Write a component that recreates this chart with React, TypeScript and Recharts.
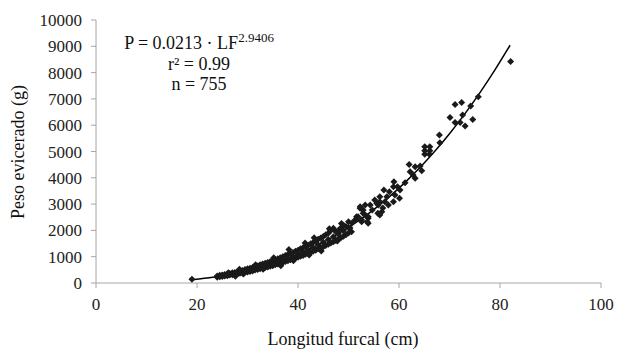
import React from "react";
import {
  ComposedChart,
  Scatter,
  Line,
  XAxis,
  YAxis,
} from "recharts";

const xTicks = [0, 20, 40, 60, 80, 100];
const yTicks = [0, 1000, 2000, 3000, 4000, 5000, 6000, 7000, 8000, 9000, 10000];

// fitted curve P = 0.0213 * LF^2.9406
const curveLF = [19, 22, 25, 28, 31, 34, 37, 40, 43, 46, 49, 52, 55, 58, 61, 64, 67, 70, 73, 76, 79, 82];
const curveP = [123, 189, 275, 384, 518, 679, 871, 1095, 1354, 1652, 1989, 2369, 2793, 3266, 3787, 4362, 4991, 5677, 6423, 7230, 8102, 9040];

// observed fish: longitud furcal (cm) / peso eviscerado (g)
const obsLF = [
  19,
  24, 24, 24.5, 24.5, 25, 25, 25, 25.5, 25.5, 26, 26, 26, 26.5, 26.5, 27, 27, 27, 27.5, 27.5,
  28, 28, 28, 28.5, 28.5, 29, 29, 29, 29.5, 29.5, 30, 30, 30, 30.5, 30.5, 31, 31, 31, 31.5, 31.5,
  32, 32, 32, 32.5, 32.5, 33, 33, 33, 33.5, 33.5, 34, 34, 34, 34.5, 34.5, 35, 35, 35, 35.5, 35.5,
  36, 36, 36, 36.5, 36.5, 37, 37, 37, 37.5, 37.5, 38, 38, 38, 38.5, 38.5, 39, 39, 39, 39.5, 39.5,
  40, 40, 40, 40.5, 40.5, 41, 41, 41, 41.5, 41.5, 42, 42, 42, 42.5, 42.5, 43, 43, 43, 43.5, 43.5,
  44, 44, 44, 44.5, 44.5, 45, 45, 45, 45.5, 45.5, 46, 46, 46, 46.5, 46.5, 47, 47, 47, 47.5, 47.5,
  48, 48, 48, 48.5, 48.5, 49, 49, 49, 49.5, 49.5, 50, 50, 50,
  26.2, 28.4, 27.6, 29.2, 31.6, 33.1, 35.2, 36.6, 38.2, 39.1, 41.4, 42.2, 43.2, 44.6, 46.2, 47.8, 48.6,
  50.3, 50.6, 50.7, 51.3, 51.6, 51.9, 52.3, 52.3, 52.6, 52.9, 52.9, 52.6, 53.3, 53.3, 53.7, 53.9, 53.9, 53.9,
  54.3, 54.7, 55.2, 55.6, 55.8, 55.9, 56.2, 56.2, 56.2, 56.6, 56.8, 57, 57.2, 57.6, 57.9, 58.1, 58.9, 58.9, 59, 59.2,
  59.7, 60.1, 60.2, 61.2, 62, 62.2, 62.8, 63.2, 63.2, 64.2, 64.5, 65.1, 66.1, 65.1, 66.1, 65.1, 66, 68, 68.1, 70.1,
  71.1, 71.1, 72.1, 72.4, 72.6, 73.1, 74.2, 74.6, 75.7, 82.1,
];
const obsP = [
  140,
  220, 270, 240, 290, 250, 300, 280, 270, 320, 280, 340, 300, 300, 360, 310, 390, 350, 330, 400,
  340, 430, 380, 370, 450, 380, 480, 420, 410, 510, 420, 540, 470, 440, 560, 460, 590, 520, 490, 620,
  510, 650, 570, 540, 690, 560, 720, 620, 590, 750, 610, 780, 680, 640, 820, 660, 850, 740, 690, 890,
  720, 920, 800, 750, 960, 780, 1000, 870, 820, 1050, 850, 1080, 940, 880, 1120, 910, 1160, 1010, 950, 1210,
  980, 1250, 1100, 1020, 1300, 1050, 1340, 1180, 1090, 1390, 1130, 1440, 1260, 1170, 1490, 1210, 1540, 1350, 1250, 1600,
  1300, 1660, 1450, 1340, 1710, 1380, 1770, 1550, 1430, 1830, 1470, 1890, 1650, 1520, 2000, 1570, 2080, 1760, 1620, 1950,
  1670, 2000, 1870, 1720, 2100, 1780, 2200, 1990, 1830, 2150, 1900, 2330, 2110,
  390, 520, 260, 340, 690, 520, 960, 660, 1270, 850, 1520, 1060, 1720, 1220, 2060, 1600, 2260,
  2090, 1950, 2280, 2400, 2520, 2520, 2840, 2900, 2330, 2780, 2650, 2400, 2970, 2590, 2330, 2520, 2460, 2270,
  2970, 2780, 3160, 3030, 2650, 2970, 3090, 3280, 2590, 2710, 2850, 3540, 3090, 3280, 2970, 3470, 3660, 3090, 3850, 3350,
  3660, 3220, 3540, 3810, 4510, 4230, 4110, 4420, 3980, 4450, 4270, 5180, 5180, 5030, 5030, 4900, 4900, 5630, 5330, 6290,
  6790, 6100, 6100, 6860, 6390, 5970, 6730, 6220, 7080, 8420,
];

const curveData = curveLF.map((x, i) => ({ x, y: curveP[i] }));
const obsData = obsLF.map((x, i) => ({ x, y: obsP[i] }));

const FONT = "Liberation Serif";
const AXIS = "#a6a6a6";

const Diamond = (props: any) => {
  const { cx, cy } = props;
  if (cx == null || cy == null) return null;
  const r = 3.5;
  return (
    <path
      d={`M${cx},${cy - r}L${cx + r},${cy}L${cx},${cy + r}L${cx - r},${cy}Z`}
      fill="#1a1a1a"
    />
  );
};

const XTick = (props: any) => {
  const { x, y, payload } = props;
  return (
    <text x={x} y={y + 12} textAnchor="middle" fontFamily={FONT} fontSize={17} fill="#222">
      {payload.value}
    </text>
  );
};

const YTick = (props: any) => {
  const { x, y, payload } = props;
  return (
    <text x={x} y={y + 6} textAnchor="end" fontFamily={FONT} fontSize={17} fill="#222">
      {payload.value}
    </text>
  );
};

export default function App() {
  return (
    <div
      style={{
        position: "absolute",
        left: 0,
        top: 0,
        width: 618,
        height: 349,
        background: "#fff",
      }}
    >
      <ComposedChart
        width={618}
        height={349}
        margin={{ top: 20, right: 17, bottom: 0, left: 0 }}
      >
        <XAxis
          type="number"
          dataKey="x"
          domain={[0, 100]}
          ticks={xTicks}
          height={66}
          stroke={AXIS}
          tickSize={5}
          tickMargin={10}
          tick={<XTick />}
        />
        <YAxis
          type="number"
          dataKey="y"
          domain={[0, 10000]}
          ticks={yTicks}
          width={96}
          stroke={AXIS}
          tickSize={5}
          tickMargin={9}
          tick={<YTick />}
        />
        <Scatter data={obsData} shape={Diamond} fill="#1a1a1a" isAnimationActive={false} />
        <Line
          data={curveData}
          dataKey="y"
          type="monotone"
          stroke="#000"
          strokeWidth={1.5}
          dot={false}
          isAnimationActive={false}
        />
      </ComposedChart>
      <svg
        width={618}
        height={349}
        style={{ position: "absolute", left: 0, top: 0, pointerEvents: "none" }}
      >
        <g fontFamily={FONT} fontSize={18} fill="#111" textAnchor="middle">
          <text x={199} y={49}>
            P = 0.0213 · LF
            <tspan fontSize={13} dy={-7}>2.9406</tspan>
          </text>
          <text x={199} y={70}>r² = 0.99</text>
          <text x={199} y={90}>n = 755</text>
          <text x={343} y={345}>Longitud furcal (cm)</text>
          <text x={24} y={152} transform="rotate(-90 24 152)">Peso evicerado (g)</text>
        </g>
      </svg>
    </div>
  );
}
